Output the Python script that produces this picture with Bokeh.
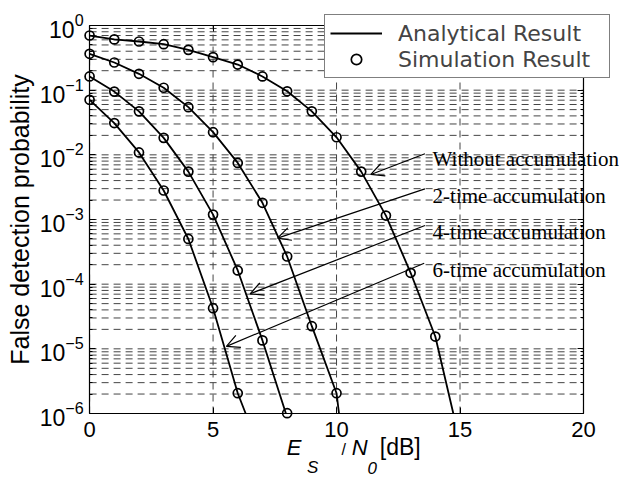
import numpy as np
from bokeh.plotting import figure
from bokeh.models import (Legend, LegendItem, Label, Arrow, OpenHead, LogAxis,
                          LinearAxis, Range1d, FixedTicker, CustomJSTickFormatter)
from bokeh.embed import file_html
from bokeh.resources import INLINE

# ---------------- data ----------------
# Simulation results (markers), Es/N0 in dB
x_wo = [0, 1, 2, 3, 4, 5, 6, 7, 8, 9, 10, 11, 12, 13, 14]
y_wo = [0.70, 0.61, 0.566, 0.514, 0.42, 0.324, 0.249, 0.163, 0.096, 0.047,
        0.0187, 0.0055, 1.15e-3, 1.5e-4, 1.55e-5]
x_2t = [0, 1, 2, 3, 4, 5, 6, 7, 8, 9, 10]
y_2t = [0.365, 0.268, 0.179, 0.109, 0.0546, 0.0224, 7.5e-3, 1.81e-3,
        2.68e-4, 2.24e-5, 2.06e-6]
x_4t = [0, 1, 2, 3, 4, 5, 6, 7, 8]
y_4t = [0.163, 0.095, 0.047, 0.0183, 5.5e-3, 1.19e-3, 1.63e-4, 1.35e-5, 1.01e-6]
x_6t = [0, 1, 2, 3, 4, 5, 6]
y_6t = [0.071, 0.031, 0.0109, 2.81e-3, 5.0e-4, 4.25e-5, 2.06e-6]

# Analytical results (lines)
xa_wo = [0, 1, 2, 3, 4, 5, 6, 7, 8, 9, 10, 11, 12, 13, 14, 14.73]
ya_wo = [0.70, 0.61, 0.566, 0.514, 0.42, 0.324, 0.249, 0.163, 0.096, 0.047,
         0.0187, 0.0055, 1.15e-3, 1.5e-4, 1.55e-5, 1e-6]
xa_2t = [0, 1, 2, 3, 4, 5, 6, 7, 8, 9, 10, 10.1]
ya_2t = [0.365, 0.268, 0.179, 0.109, 0.0546, 0.0224, 7.5e-3, 1.81e-3,
         2.68e-4, 2.24e-5, 2.06e-6, 1e-6]
xa_4t = [0, 1, 2, 3, 4, 5, 6, 7, 7.95]
ya_4t = [0.163, 0.095, 0.047, 0.0183, 5.5e-3, 1.19e-3, 1.63e-4, 1.35e-5, 1e-6]
xa_6t = [0, 1, 2, 3, 4, 5, 6, 6.32]
ya_6t = [0.071, 0.031, 0.0109, 2.81e-3, 5.0e-4, 4.25e-5, 2.06e-6, 1e-6]

# annotations
ann_text = ["Without accumulation", "2-time accumulation",
            "4-time accumulation", "6-time accumulation"]
ann_x = [13.89, 13.89, 13.89, 13.89]
ann_y = [10**-2.057, 10**-2.629, 10**-3.196, 10**-3.778]
arr_x0 = [13.58, 13.58, 13.58, 13.55]
arr_y0 = [1.04e-2, 2.98e-3, 8.08e-4, 2.11e-4]
arr_x1 = [11.39, 7.61, 6.50, 5.54]
arr_y1 = [4.97e-3, 5.14e-4, 7.1e-5, 1.09e-5]

# axes
X_MIN, X_MAX = 0, 20
Y_MIN, Y_MAX = 1e-6, 1
x_ticks = [0, 5, 10, 15, 20]
y_ticks = [1e-6, 1e-5, 1e-4, 1e-3, 1e-2, 1e-1, 1]
y_minor = [m * 10.0**e for e in range(-6, 0) for m in range(2, 10)]

# ---------------- figure ----------------
SANS = "Liberation Sans"
GRID = "#454545"
DASH = "7 5"

# the frame spans the whole page; the plotting box (0..20, 1e-6..1) sits inside
p = figure(width=619, height=479,
           x_range=Range1d(-3.608, 21.459),
           y_range=Range1d(10**-7.0206, 10**0.3866), y_axis_type="log",
           output_backend="svg", toolbar_location=None,
           min_border_left=0, min_border_right=0,
           min_border_top=0, min_border_bottom=0)
p.background_fill_color = "white"
p.border_fill_color = "white"
p.outline_line_color = None
p.grid.visible = False

xt = FixedTicker(ticks=x_ticks)
yt = FixedTicker(ticks=y_ticks, minor_ticks=y_minor)
blank = CustomJSTickFormatter(code="return ''")

bx = p.xaxis[0]
by = p.yaxis[0]
bx.ticker = xt
by.ticker = yt
bx.fixed_location = Y_MIN
by.fixed_location = X_MIN
bx.bounds = (X_MIN, X_MAX)
by.bounds = (Y_MIN, Y_MAX)

rax = LogAxis(ticker=yt, formatter=blank, fixed_location=X_MAX,
              bounds=(Y_MIN, Y_MAX))
tax = LinearAxis(ticker=xt, formatter=blank, fixed_location=Y_MAX,
                 bounds=(X_MIN, X_MAX))
p.add_layout(rax, "right")
p.add_layout(tax, "above")

for ax in (bx, by, rax, tax):
    ax.axis_line_color = "black"
    ax.axis_line_width = 1.2
    ax.major_tick_in = 6
    ax.major_tick_out = 0
    ax.minor_tick_in = 3
    ax.minor_tick_out = 0
    ax.major_tick_line_color = "black"
    ax.minor_tick_line_color = "black"
    ax.major_label_text_font = SANS
    ax.major_label_text_color = "black"

bx.major_label_text_font_size = "22px"
bx.major_label_standoff = 8
by.major_label_text_font_size = "23px"
by.major_label_standoff = 6
by.axis_label = "False detection probability"
by.axis_label_text_font = SANS
by.axis_label_text_font_size = "25px"
by.axis_label_text_font_style = "normal"
by.axis_label_text_color = "black"
by.axis_label_standoff = 3

# dashed grid inside the box, from the tick lists
p.segment(x0=[X_MIN] * (len(y_ticks) + len(y_minor)), y0=y_ticks + y_minor,
          x1=[X_MAX] * (len(y_ticks) + len(y_minor)), y1=y_ticks + y_minor,
          line_color=GRID, line_dash=DASH, line_width=1)
p.segment(x0=x_ticks, y0=[Y_MIN] * len(x_ticks), x1=x_ticks,
          y1=[Y_MAX] * len(x_ticks),
          line_color=GRID, line_dash=DASH, line_width=1)

lines = []
for xa, ya in ((xa_wo, ya_wo), (xa_2t, ya_2t), (xa_4t, ya_4t), (xa_6t, ya_6t)):
    lines.append(p.line(xa, ya, line_color="black", line_width=1.8))
marks = []
for xs, ys in ((x_wo, y_wo), (x_2t, y_2t), (x_4t, y_4t), (x_6t, y_6t)):
    marks.append(p.scatter(xs, ys, marker="circle", size=9, line_color="black",
                           line_width=1.7, fill_color=None))

for i in range(4):
    p.add_layout(Arrow(end=OpenHead(size=13, line_width=1.2, line_color="black"),
                       x_start=arr_x0[i], y_start=arr_y0[i],
                       x_end=arr_x1[i], y_end=arr_y1[i],
                       line_width=1.2, line_color="black"))
    p.add_layout(Label(x=ann_x[i], y=ann_y[i], text=ann_text[i],
                       text_font="Liberation Serif", text_font_size="21px",
                       text_baseline="alphabetic", text_color="black"))

# x axis label: E_S / N_0 [dB]
xl_parts = [("E", 7.98, -6.52, "22px", "italic"),
            ("S", 8.80, -6.84, "17px", "italic"),
            ("/", 10.20, -6.55, "16px", "normal"),
            ("N", 10.62, -6.52, "22px", "italic"),
            ("0", 11.25, -6.84, "17px", "italic"),
            ("[dB]", 11.75, -6.52, "23px", "normal")]
for t, xx, ly, fs, st in xl_parts:
    p.add_layout(Label(x=xx, y=10**ly, text=t, text_font=SANS,
                       text_font_size=fs, text_font_style=st,
                       text_baseline="alphabetic", text_color="black"))

legend = Legend(items=[LegendItem(label="Analytical Result", renderers=[lines[0]]),
                       LegendItem(label="Simulation Result", renderers=[marks[0]])],
                location=(324, 401))
legend.label_text_font = "DejaVu Sans"
legend.label_text_font_size = "22px"
legend.label_standoff = 16
legend.glyph_width = 52
legend.glyph_height = 26
legend.label_height = 26
legend.label_width = 206
legend.spacing = 0
legend.padding = 5
legend.margin = 0
legend.border_line_color = "black"
legend.border_line_width = 1.5
legend.background_fill_color = "white"
legend.background_fill_alpha = 1
p.add_layout(legend, "center")

open("out.html", "w").write(file_html(p, INLINE))
